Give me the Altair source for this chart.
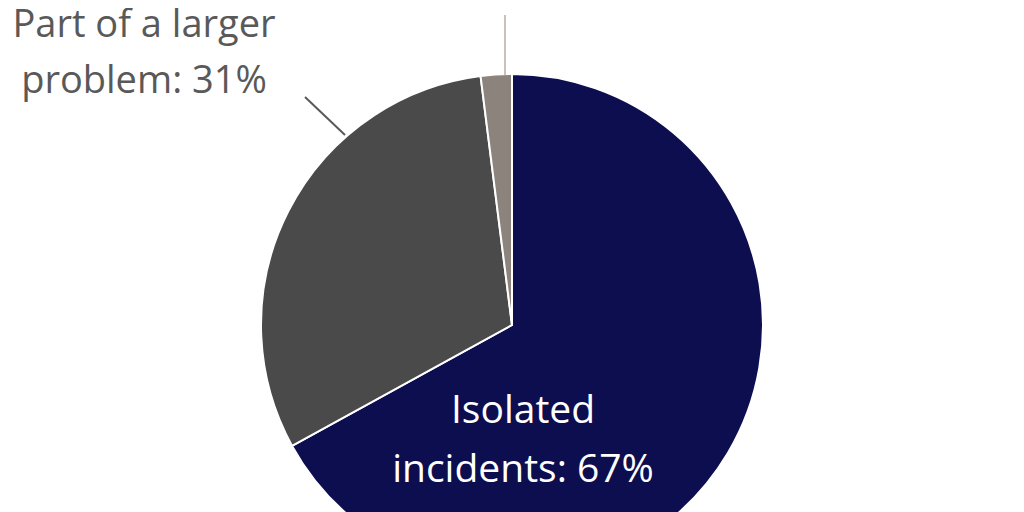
import altair as alt
import pandas as pd

categories = ["Isolated incidents", "Part of a larger problem", "Other"]
values = [67, 31, 2]
order = [1, 2, 3]
colors = ["#0d0e4f", "#4a4a4a", "#8b837c"]

df = pd.DataFrame({"category": categories, "value": values, "order": order})

W, H = 1008, 504
CX, CY = 504, 317

pie = alt.Chart(df).mark_arc(outerRadius=251, stroke="white", strokeWidth=2).encode(
    theta=alt.Theta("value:Q", stack=True),
    order=alt.Order("order:Q"),
    color=alt.Color("category:N", scale=alt.Scale(domain=categories, range=colors), legend=None),
    x=alt.value(CX),
    y=alt.value(CY),
)

lab_df = pd.DataFrame({"t": [0]})
font = "Open Sans"

lab1 = alt.Chart(lab_df).mark_text(
    text=["Part of a larger", "problem: 31%"], font=font, fontSize=38, lineHeight=56,
    align="center", baseline="alphabetic", color="#595959"
).encode(x=alt.value(136), y=alt.value(29))

lab2 = alt.Chart(lab_df).mark_text(
    text=["Isolated", "incidents: 67%"], font=font, fontSize=39, lineHeight=59,
    align="center", baseline="alphabetic", color="white"
).encode(x=alt.value(515), y=alt.value(415))

rule1 = alt.Chart(lab_df).mark_rule(color="#595959", strokeWidth=2).encode(
    x=alt.value(297), y=alt.value(89), x2=alt.value(337), y2=alt.value(127))
rule2 = alt.Chart(lab_df).mark_rule(color="#c9c1ba", strokeWidth=2).encode(
    x=alt.value(497), y=alt.value(7), x2=alt.value(497), y2=alt.value(67))

chart = alt.layer(pie, rule1, rule2, lab1, lab2).properties(
    width=W, height=H, padding=0, autosize=alt.AutoSizeParams(type="none")
).configure_view(stroke=None)

chart.save("out.html", embed_options={"renderer": "svg", "actions": False})
